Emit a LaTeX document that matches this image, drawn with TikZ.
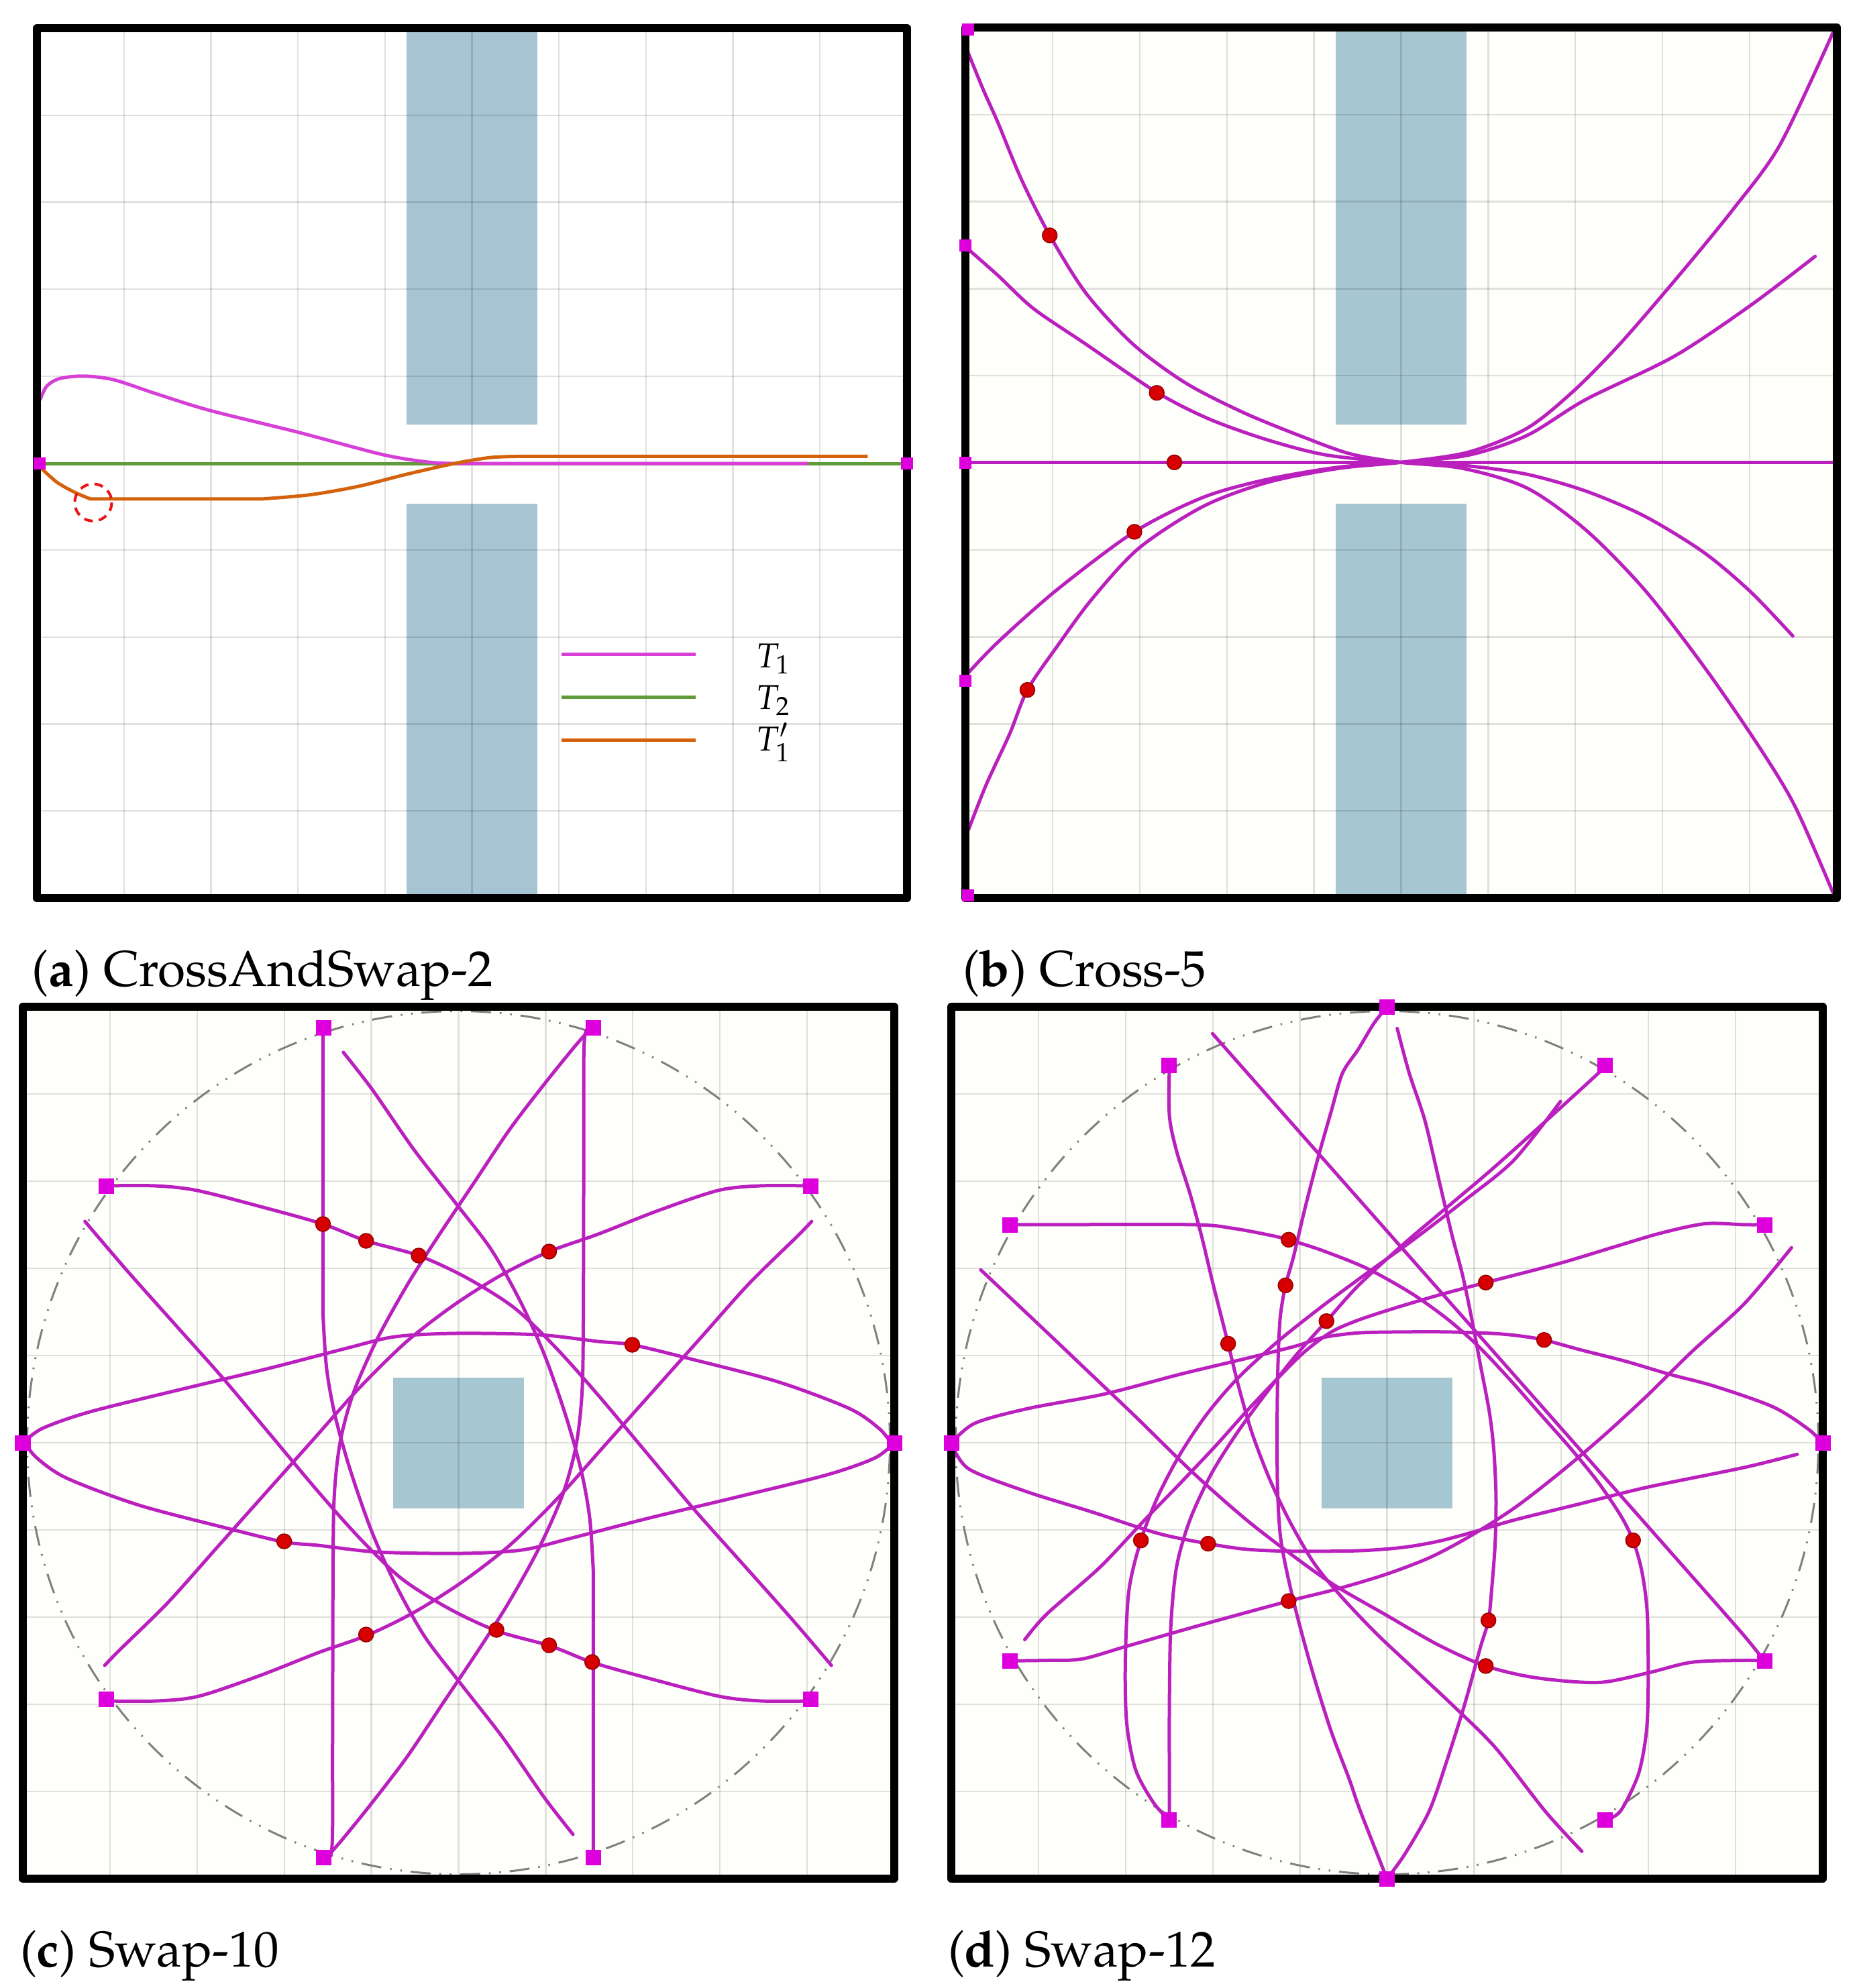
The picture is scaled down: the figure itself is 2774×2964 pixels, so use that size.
\documentclass[tikz,border=0pt]{standalone}
\usepackage[T1]{fontenc}
\usepackage{mathpazo}
\definecolor{magA}{RGB}{214,64,214}
\definecolor{magB}{RGB}{186,32,190}
\definecolor{sqcol}{RGB}{221,0,221}
\definecolor{greenT}{RGB}{98,156,58}
\definecolor{orangeT}{RGB}{212,98,12}
\definecolor{blockA}{RGB}{166,196,212}
\definecolor{blockB}{RGB}{166,199,209}
\definecolor{cream}{RGB}{254,254,250}
\definecolor{dotred}{RGB}{214,0,0}
\definecolor{dotedge}{RGB}{150,0,0}
\definecolor{circgray}{RGB}{128,128,128}
\definecolor{dashred}{RGB}{235,20,20}
\begin{document}
\begin{tikzpicture}[x=0.2pt,y=-0.2pt,
  frame/.style={draw=black,line width=2.4pt,line join=round},
  gridline/.style={draw=black,draw opacity=0.12,line width=0.45pt},
  traj/.style={draw=magB,line width=1pt,line join=round,line cap=round},
  sqnode/.style={rectangle,fill=sqcol,inner sep=0pt,minimum size=#1},
  sqnode/.default=3.6pt,
  dotnode/.style={circle,fill=dotred,draw=dotedge,line width=0.3pt,inner sep=0pt,minimum size=4.4pt},
  circ/.style={draw=circgray,line width=0.6pt,dash pattern=on 6pt off 2.6pt on 0.5pt off 2.6pt on 0.5pt off 2.6pt},
  capt/.style={anchor=base west,inner sep=0pt,font=\fontsize{15}{18}\selectfont},
  lgd/.style={anchor=base west,inner sep=0pt,font=\fontsize{10.3}{12}\selectfont}
]
\fill[white] (0,0) rectangle (2774,2964);
\useasboundingbox (0,0) rectangle (2774,2964);

% ================= panel (a) =================
\begin{scope}[shift={(55,1339)},x=25.94pt,y=25.94pt]
  \fill[white] (0,0) rectangle (10,10);
  \fill[blockA] (4.25,5.44) rectangle (5.75,10);
  \fill[blockA] (4.25,0) rectangle (5.75,4.53);
  \foreach \i in {1,...,9}{\draw[gridline] (\i,0)--(\i,10); \draw[gridline] (0,\i)--(10,\i);}
\end{scope}
\begin{scope}[xscale=0.8908,yscale=0.8929]
  \draw[greenT,line width=1pt] (62,774) -- (1518,774);
  \draw[magA,line width=1pt,line join=round] plot[smooth] coordinates {(67,668) (78,645) (100,632) (140,628) (190,634) (260,657) (350,685) (500,722) (640,759) (720,772) (770,774)} -- (1352,774);
  \draw[orangeT,line width=1pt,line join=round] plot[smooth] coordinates {(65,778) (95,805) (125,822) (151,833)} -- plot[smooth] coordinates {(440,833) (520,826) (600,812) (680,792) (760,774) (820,764) (870,762)} -- (1452,762);
  \draw[dashred,line width=0.8pt,dash pattern=on 2.6pt off 1.8pt] (156,839) circle (31);
\end{scope}
\draw[frame] (55,42) rectangle (1352,1339);
\node[sqnode] (a-s1) at (59,691) {};
\node[sqnode] (a-s2) at (1352,691) {};
% legend
\draw[magA,line width=1pt] (837,975) -- (1037,975);
\draw[greenT,line width=1pt] (837,1039) -- (1037,1039);
\draw[orangeT,line width=1pt] (837,1103) -- (1037,1103);
\node[lgd] (lg1) at (1126,995) {$T_1$};
\node[lgd] (lg2) at (1126,1057) {$T_2$};
\node[lgd] (lg3) at (1126,1119) {$T_1'$};
\node[capt] (capa) at (47,1470) {(\textbf{a})~CrossAndSwap-2};

% ================= panel (b) =================
\begin{scope}[shift={(1439,1339)},x=25.98pt,y=25.96pt]
  \fill[cream] (0,0) rectangle (10,10);
  \fill[blockB] (4.25,5.44) rectangle (5.75,10);
  \fill[blockB] (4.25,0) rectangle (5.75,4.53);
  \foreach \i in {1,...,9}{\draw[gridline] (\i,0)--(\i,10); \draw[gridline] (0,\i)--(10,\i);}
\end{scope}
\begin{scope}[shift={(1400,0)},xscale=0.8763,yscale=0.8929]
  \draw[traj] (45,772) -- (1525,772);
  \draw[traj] plot[smooth] coordinates {(48,85) (75,150) (100,205) (140,300) (188,393) (250,490) (330,575) (420,640) (520,690) (620,730) (700,758) (785,772) (890,782) (1000,815) (1100,885) (1200,985) (1300,1112) (1390,1240) (1455,1345) (1520,1490)};
  \draw[traj] plot[smooth] coordinates {(48,415) (100,460) (160,515) (250,575) (370,655) (460,700) (560,735) (660,760) (785,772) (900,778) (1000,792) (1100,820) (1200,862) (1300,922) (1380,988) (1452,1062)};
  \draw[traj] plot[smooth] coordinates {(48,1125) (100,1072) (200,985) (332,888) (450,830) (560,800) (680,780) (785,772) (900,760) (1000,727) (1100,667) (1250,595) (1380,510) (1490,428)};
  \draw[traj] plot[smooth] coordinates {(50,1385) (80,1310) (120,1225) (150,1152) (200,1080) (260,1000) (340,915) (450,845) (560,805) (680,782) (785,772) (900,755) (1000,715) (1080,652) (1160,572) (1260,458) (1350,350) (1430,242) (1520,55)};
  \node[dotnode] (b-d1) at (188,393) {};
  \node[dotnode] (b-d2) at (370,656) {};
  \node[dotnode] (b-d3) at (400,772) {};
  \node[dotnode] (b-d4) at (332,888) {};
  \node[dotnode] (b-d5) at (150,1152) {};
\end{scope}
\draw[frame] (1439,41) rectangle (2738,1339);
\begin{scope}[shift={(1439,1339)},x=25.98pt,y=25.96pt]
  \node[sqnode] (b-s1) at (0.03,9.98) {};
  \node[sqnode] (b-s2) at (0,7.5) {};
  \node[sqnode] (b-s3) at (0,5) {};
  \node[sqnode] (b-s4) at (0,2.5) {};
  \node[sqnode] (b-s5) at (0.03,0.03) {};
\end{scope}
\node[capt] (capb) at (1434,1470) {(\textbf{b})~Cross-5};

% ================= panel (c) =================
\begin{scope}[shift={(34,2801)},x=25.98pt,y=26pt]
  \fill[cream] (0,0) rectangle (10,10);
  \fill[blockB] (4.25,4.25) rectangle (5.75,5.75);
  \foreach \i in {1,...,9}{\draw[gridline] (\i,0)--(\i,10); \draw[gridline] (0,\i)--(10,\i);}
  \draw[circ] (5,5) circle (4.95);
\end{scope}
\newcommand\swapTenHalf{%
  \draw[traj] (540,130) -- (540,560) plot[smooth] coordinates {(540,560) (546,640) (560,710) (585,790) (620,880) (660,960) (710,1040) (770,1110) (840,1190) (910,1280) (958,1335)};
  \draw[traj] plot[smooth] coordinates {(990,130) (977,150) (976,300) (975,600) (972,690) (962,760) (940,830) (900,910) (850,990) (800,1060) (740,1140) (680,1220) (620,1290) (570,1345) (545,1370)};
  \draw[traj] plot[smooth] coordinates {(175,368) (260,368) (330,375) (440,400) (540,425) (612,450) (700,472) (780,505) (860,550) (930,610) (1000,680) (1080,765) (1160,850) (1240,930) (1320,1010) (1390,1083)};
  \draw[traj] plot[smooth] coordinates {(1355,368) (1270,368) (1200,375) (1100,405) (1000,440) (918,466) (840,500) (760,545) (680,600) (600,670) (520,750) (440,830) (360,910) (280,990) (200,1060) (175,1083)};
  \draw[traj] plot[smooth] coordinates {(38,752) (70,730) (150,705) (300,672) (450,640) (580,610) (660,593) (760,588) (900,590) (1000,600) (1057,605) (1150,625) (1300,660) (1420,700) (1470,730) (1490,752)};
}
\begin{scope}[shift={(0,1400)},xscale=0.8916]
  \swapTenHalf
  \begin{scope}[rotate around={180:(766,752)}]
    \swapTenHalf
  \end{scope}
  \node[dotnode] (c-d1) at (540,425) {};
  \node[dotnode] (c-d2) at (612,450) {};
  \node[dotnode] (c-d3) at (700,472) {};
  \node[dotnode] (c-d4) at (918,466) {};
  \node[dotnode] (c-d5) at (1057,605) {};
  \node[dotnode] (c-d6) at (475,898) {};
  \node[dotnode] (c-d7) at (612,1037) {};
  \node[dotnode] (c-d8) at (830,1030) {};
  \node[dotnode] (c-d9) at (918,1053) {};
  \node[dotnode] (c-d10) at (990,1078) {};
\end{scope}
\draw[frame] (34,1501) rectangle (1333,2801);
\begin{scope}[shift={(34,2801)},x=25.98pt,y=26pt]
  \foreach \k in {0,...,9}{\node[sqnode=4.6pt] (c-s\k) at ({5+5*cos(36*\k)},{5+5*sin(36*\k)}) {};}
\end{scope}
\node[capt] (capc) at (29,2932) {(\textbf{c})~Swap-10};

% ================= panel (d) =================
\begin{scope}[shift={(1418,2801)},x=25.98pt,y=26pt]
  \fill[cream] (0,0) rectangle (10,10);
  \fill[blockB] (4.25,4.25) rectangle (5.75,5.75);
  \foreach \i in {1,...,9}{\draw[gridline] (\i,0)--(\i,10); \draw[gridline] (0,\i)--(10,\i);}
  \draw[circ] (5,5) circle (4.95);
\end{scope}
\begin{scope}[shift={(1560,1600)},xscale=0.6633,yscale=0.7015]
  \draw[traj] plot[smooth] coordinates {(1744,786) (1711,756) (1632,709) (1500,665) (1400,640) (1300,612) (1200,588) (1118,567) (1060,558) (1000,553) (900,550) (800,550) (700,552) (620,562) (560,580) (450,606) (300,640) (130,682) (-43,713) (-161,744) (-214,786)};
  \draw[traj] plot[smooth] coordinates {(-214,786) (-175,841) (-43,890) (100,932) (250,978) (363,1000) (450,1012) (550,1016) (700,1015) (800,1008) (880,995) (960,975) (1050,950) (1200,915) (1350,880) (1568,838) (1687,810)};
  \draw[traj] plot[smooth] coordinates {(1613,322) (1568,322) (1480,320) (1380,340) (1280,368) (1150,405) (987,445) (880,472) (780,500) (700,525) (640,550) (580,592) (520,648) (450,718) (380,792) (300,872) (220,950) (120,1050) (0,1150) (-49,1204)};
  \draw[traj] plot[smooth] coordinates {(-83,1249) (0,1248) (80,1245) (180,1218) (350,1172) (544,1122) (650,1097) (760,1066) (860,1030) (950,985) (1050,925) (1150,852) (1250,772) (1350,685) (1450,592) (1568,490) (1674,371)};
  \draw[traj] plot[smooth] coordinates {(1255,-17) (1240,0) (1130,95) (1000,205) (900,285) (800,365) (700,452) (629,527) (560,600) (500,672) (430,762) (370,852) (322,950) (292,1050) (279,1180) (276,1350) (276,1500) (276,1588)};
  \draw[traj] plot[smooth] coordinates {(276,1588) (240,1550) (200,1480) (180,1380) (177,1250) (185,1100) (212,993) (250,900) (300,810) (360,725) (430,648) (520,570) (620,495) (720,425) (830,350) (940,270) (1050,185) (1155,60)};
  \draw[traj] plot[smooth] coordinates {(765,-141) (735,-105) (700,-50) (665,0) (640,80) (610,180) (580,290) (555,390) (537,451) (525,520) (520,620) (518,750) (519,880) (525,980) (540,1060) (565,1160) (600,1280) (640,1400) (680,1500) (705,1568) (765,1712)};
  \draw[traj] plot[smooth] coordinates {(765,1712) (805,1660) (860,1568) (900,1460) (940,1340) (975,1220) (993,1163) (1000,1100) (1008,1000) (1010,900) (1005,800) (995,720) (975,620) (955,520) (935,430) (910,340) (880,220) (850,100) (815,0) (788,-95)};
  \draw[traj] plot[smooth] coordinates {(276,-17) (276,90) (292,165) (322,255) (348,345) (372,440) (392,515) (408,575) (430,660) (460,760) (500,860) (545,950) (600,1040) (660,1110) (740,1190) (830,1270) (920,1350) (1010,1435) (1120,1568) (1203,1654)};
  \draw[traj] plot[smooth] coordinates {(-83,322) (0,322) (330,322) (420,330) (500,344) (544,354) (620,377) (720,415) (820,468) (900,522) (970,580) (1040,650) (1110,725) (1180,800) (1240,870) (1290,940) (1318,993) (1338,1060) (1350,1150) (1352,1300) (1348,1400) (1330,1490) (1290,1568) (1255,1588)};
  \draw[traj] (373,-84) -- (1480,1101) -- plot[smooth] coordinates {(1480,1101) (1568,1196) (1613,1249)};
  \draw[traj] plot[smooth] coordinates {(1613,1249) (1568,1248) (1450,1252) (1350,1275) (1240,1295) (1100,1285) (987,1260) (880,1215) (760,1150) (650,1090) (560,1030) (450,950) (330,850) (200,730) (100,640) (0,550) (-148,418)};
  \node[dotnode] (d-d1) at (544,354) {};
  \node[dotnode] (d-d2) at (537,451) {};
  \node[dotnode] (d-d3) at (629,527) {};
  \node[dotnode] (d-d4) at (408,575) {};
  \node[dotnode] (d-d5) at (987,445) {};
  \node[dotnode] (d-d6) at (1118,567) {};
  \node[dotnode] (d-d7) at (212,993) {};
  \node[dotnode] (d-d8) at (363,1000) {};
  \node[dotnode] (d-d9) at (544,1122) {};
  \node[dotnode] (d-d10) at (1318,993) {};
  \node[dotnode] (d-d11) at (993,1163) {};
  \node[dotnode] (d-d12) at (987,1260) {};
\end{scope}
\draw[frame] (1418,1501) rectangle (2717,2801);
\begin{scope}[shift={(1418,2801)},x=25.98pt,y=26pt]
  \foreach \k in {0,...,11}{\node[sqnode=4.6pt] (d-s\k) at ({5+5*cos(30*\k)},{5+5*sin(30*\k)}) {};}
\end{scope}
\node[capt] (capd) at (1412,2932) {(\textbf{d})~Swap-12};
\end{tikzpicture}
\end{document}
